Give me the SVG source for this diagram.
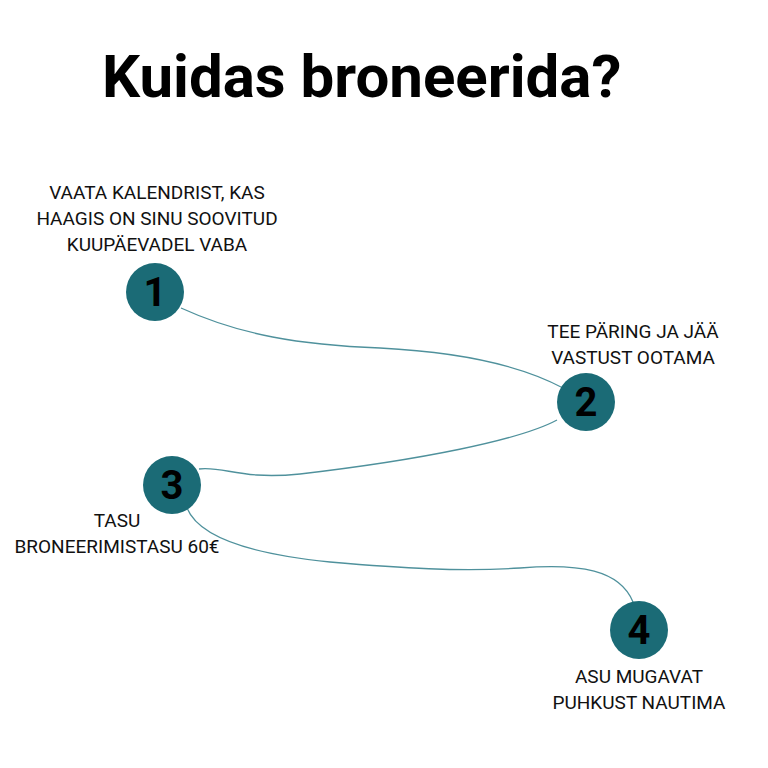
<svg xmlns="http://www.w3.org/2000/svg" width="768" height="768" viewBox="0 0 768 768">
<style>
.node{fill:#1B6B76}
.num{font-family:Roboto,"Liberation Sans",sans-serif;font-weight:700;font-size:40px;fill:#000;text-anchor:middle}
.lbl{font-family:Roboto,"Liberation Sans",sans-serif;font-size:19px;fill:#111;text-anchor:middle}
.title{font-family:Roboto,"Liberation Sans",sans-serif;font-weight:700;font-size:60px;fill:#000}
.edge{fill:none;stroke:#4F919C;stroke-width:1.3}
</style>
<rect width="768" height="768" fill="#fff"/>
<text class="title" x="102" y="97">Kuidas broneerida?</text>
<g id="connectors">
<path class="edge" d="M181,308 C240,335 300,345 380,348 C460,352 520,365 563,388"/>
<path class="edge" d="M557,420 C520,440 420,460 300,474 C240,480 225,466 199,469"/>
<path class="edge" d="M187,508 C200,540 260,555 330,562 C400,568 460,572 520,568 C580,563 620,570 633,602"/>
</g>
<g id="node1">
<circle class="node" cx="155" cy="292" r="29"/>
<text class="num" x="155" y="306">1</text>
<text class="lbl" x="157" y="199">VAATA KALENDRIST, KAS</text>
<text class="lbl" x="157" y="225">HAAGIS ON SINU SOOVITUD</text>
<text class="lbl" x="157" y="251">KUUPÄEVADEL VABA</text>
</g>
<g id="node2">
<circle class="node" cx="586" cy="402" r="29"/>
<text class="num" x="586" y="416">2</text>
<text class="lbl" x="633" y="338">TEE PÄRING JA JÄÄ</text>
<text class="lbl" x="633" y="364">VASTUST OOTAMA</text>
</g>
<g id="node3">
<circle class="node" cx="172" cy="485" r="29"/>
<text class="num" x="172" y="499">3</text>
<text class="lbl" x="117" y="527">TASU</text>
<text class="lbl" x="117" y="553">BRONEERIMISTASU 60€</text>
</g>
<g id="node4">
<circle class="node" cx="639" cy="630" r="29"/>
<text class="num" x="639" y="644">4</text>
<text class="lbl" x="639" y="683">ASU MUGAVAT</text>
<text class="lbl" x="639" y="709">PUHKUST NAUTIMA</text>
</g>
</svg>
